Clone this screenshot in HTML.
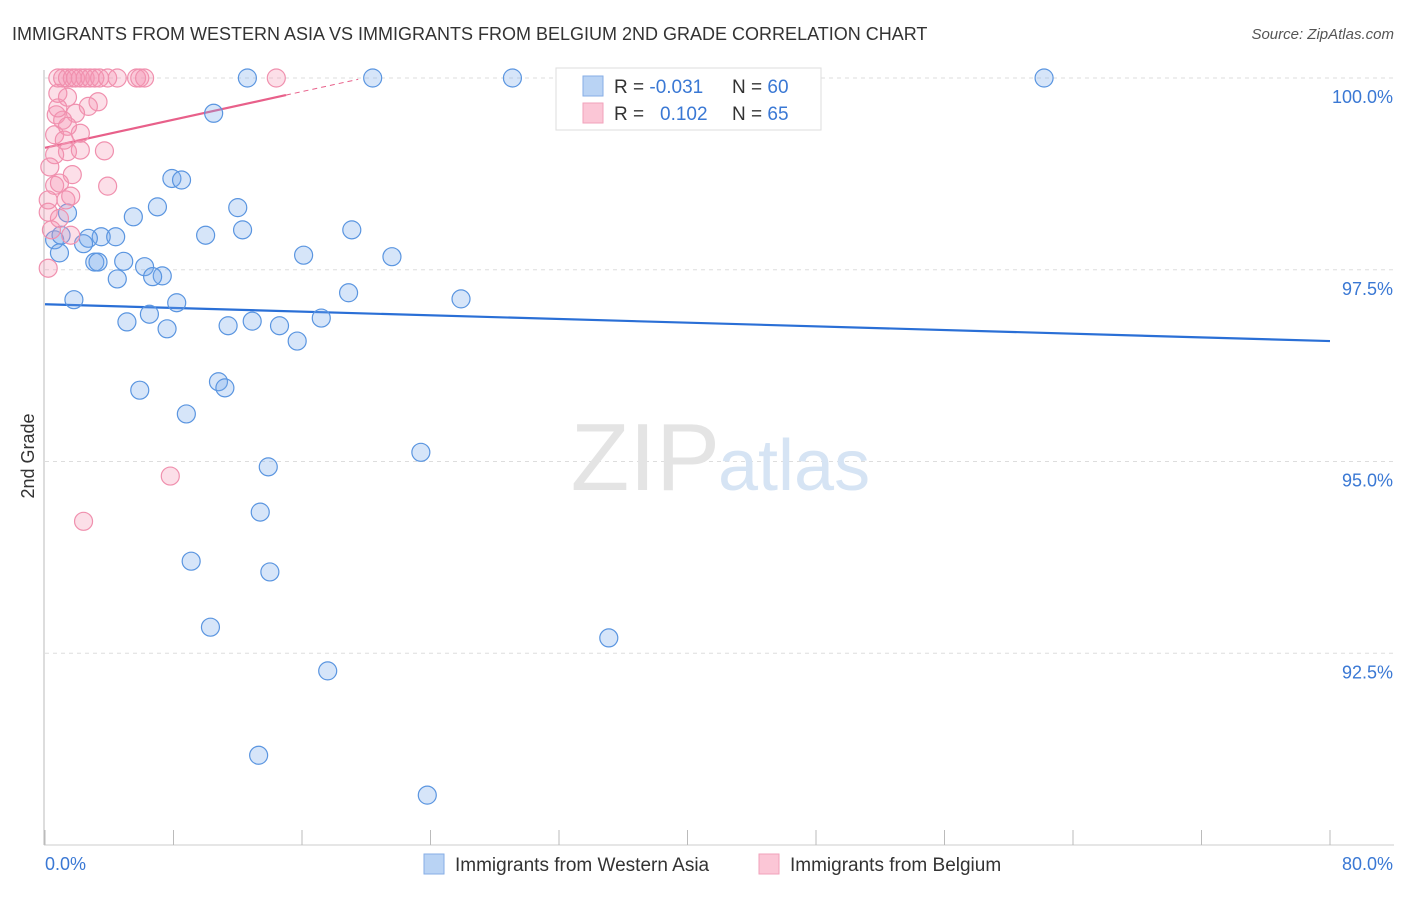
<!DOCTYPE html>
<html><head><meta charset="utf-8"><style>
body{margin:0;background:#fff;font-family:"Liberation Sans",sans-serif}
svg text{font-family:"Liberation Sans",sans-serif}
</style></head><body>
<svg id="chart" width="1406" height="892">
<text x="12" y="40" font-size="18" fill="#333">IMMIGRANTS FROM WESTERN ASIA VS IMMIGRANTS FROM BELGIUM 2ND GRADE CORRELATION CHART</text>
<text x="1394" y="39" font-size="15" fill="#555" text-anchor="end" font-style="italic">Source: ZipAtlas.com</text>
<text x="34" y="456" font-size="18" fill="#333" text-anchor="middle" transform="rotate(-90 34 456)">2nd Grade</text>
<g id="grid"></g>
<text x="720" y="490" font-size="96" fill="#e4e4e4" text-anchor="end" font-family="Liberation Serif">ZIP</text>
<text x="718" y="490" font-size="72" fill="#d6e4f4">atlas</text>
<g id="lines"></g>
<g id="points"></g>
<g>
<rect x="556" y="68" width="265" height="62" fill="#fff" stroke="#ddd"/>
<rect x="583" y="76" width="20" height="20" fill="#b9d3f4" stroke="#86aee6"/>
<rect x="583" y="103" width="20" height="20" fill="#fbc6d6" stroke="#f1a2bb"/>
<text x="614" y="93" font-size="19" fill="#333">R = <tspan fill="#3a78d4">-0.031</tspan></text>
<text x="732" y="93" font-size="19" fill="#333">N = <tspan fill="#3a78d4">60</tspan></text>
<text x="614" y="120" font-size="19" fill="#333">R = <tspan fill="#3a78d4" x="660">0.102</tspan></text>
<text x="732" y="120" font-size="19" fill="#333">N = <tspan fill="#3a78d4">65</tspan></text>
</g>
<g>
<rect x="424" y="854" width="20" height="20" fill="#b9d3f4" stroke="#86aee6"/>
<text x="455" y="871" font-size="19" fill="#333">Immigrants from Western Asia</text>
<rect x="759" y="854" width="20" height="20" fill="#fbc6d6" stroke="#f1a2bb"/>
<text x="790" y="871" font-size="19" fill="#333">Immigrants from Belgium</text>
</g>
</svg>
<script>
const yTicks=[100,97.5,95,92.5];
const yTickLabels=["100.0%","97.5%","95.0%","92.5%"];
const xTickLabels=["0.0%","80.0%"];
const blueX=[12.6,20.4,29.1,62.2,42.3,10.5,7.9,8.5,7.0,12.0,5.5,1.4,10.0,12.3,19.1,3.5,4.4,2.7,0.6,1.0,2.4,16.1,21.6,0.9,3.1,4.9,3.3,6.2,7.3,6.7,4.5,18.9,25.9,1.8,8.2,6.5,5.1,7.6,11.4,12.9,14.6,17.2,15.7,10.8,11.2,5.9,8.8,23.4,13.9,13.4,9.1,14.0,10.3,35.1,17.6,13.3,23.8];
const blueY=[100,100,100,100,100,99.54,98.69,98.67,98.32,98.31,98.19,98.24,97.95,98.02,98.02,97.93,97.93,97.91,97.89,97.95,97.84,97.69,97.67,97.72,97.60,97.61,97.60,97.54,97.42,97.41,97.38,97.20,97.12,97.11,97.07,96.92,96.82,96.73,96.77,96.83,96.77,96.87,96.57,96.04,95.96,95.93,95.62,95.12,94.93,94.34,93.70,93.56,92.84,92.70,92.27,91.17,90.65];
const pinkX=[0.8,1.1,1.4,1.7,1.9,2.2,2.5,2.8,3.1,3.4,3.9,4.5,5.7,5.9,6.2,14.4,0.8,1.4,3.3,2.7,0.7,1.9,1.1,2.2,0.6,1.2,1.4,0.6,2.2,3.7,0.3,1.7,3.9,0.6,0.9,0.2,1.3,1.6,0.2,0.9,0.4,1.6,0.2,7.8,2.4,0.8,1.4];
const pinkY=[100,100,100,100,100,100,100,100,100,100,100,100,100,100,100,100,99.80,99.75,99.69,99.63,99.52,99.54,99.45,99.28,99.26,99.19,99.04,99.00,99.06,99.05,98.84,98.74,98.59,98.60,98.63,98.41,98.41,98.46,98.25,98.17,98.02,97.95,97.52,94.81,94.22,99.61,99.37];
const blueTrend=[97.05,96.57];   // y at x=0 and x=80
const pinkTrend=[99.09,0.0458]; // intercept, slope
const X=v=>45+v/80*1285;
const Y=v=>78+(100-v)/10*767;
const NS="http://www.w3.org/2000/svg";
function mk(tag,attrs,parent){const e=document.createElementNS(NS,tag);for(const k in attrs)e.setAttribute(k,attrs[k]);parent.appendChild(e);return e;}
const grid=document.getElementById('grid');
yTicks.forEach((t,i)=>{
 const l=mk('line',{x1:45,x2:1394,y1:Y(t),y2:Y(t),stroke:'#ddd','stroke-dasharray':'4,4'},grid);
 
 
 const tx=mk('text',{x:1393,y:Y(t)+25,'font-size':18,fill:'#3a78d4','text-anchor':'end'},grid);
 tx.textContent=yTickLabels[i];
 
 
});
const ax=mk('line',{x1:44,x2:44,y1:70,y2:845,stroke:'#bbb'},grid);


const bx=mk('line',{x1:44,x2:1394,y1:845,y2:845,stroke:'#ccc'},grid);


for(let v=0;v<=80;v+=8){
 const t=mk('line',{x1:X(v),x2:X(v),y1:830,y2:845,stroke:'#bbb'},grid);
 
 
}
[[0,'start'],[80,'end']].forEach((p,i)=>{
 const tx=mk('text',{x:i?1393:45,y:870,'font-size':18,fill:'#3a78d4','text-anchor':p[1]},grid);
 tx.textContent=xTickLabels[i];
 
 
});
const pts=document.getElementById('points');
blueX.forEach((x,i)=>{
 const c=mk('circle',{cx:X(x),cy:Y(blueY[i]),r:9,fill:'rgba(120,170,235,0.3)',stroke:'#5a95e0','stroke-width':1.2},pts);
 
 
});
pinkX.forEach((x,i)=>{
 const c=mk('circle',{cx:X(x),cy:Y(pinkY[i]),r:9,fill:'rgba(245,150,180,0.3)',stroke:'#f090ae','stroke-width':1.2},pts);
 
 
});
const lines=document.getElementById('lines');
const bl=mk('line',{x1:X(0),y1:Y(blueTrend[0]),x2:X(80),y2:Y(blueTrend[1]),stroke:'#2a6fd6','stroke-width':2.2},lines);


const pl=mk('line',{x1:X(0),y1:Y(pinkTrend[0]),x2:X(15),y2:Y(pinkTrend[0]+15*pinkTrend[1]),stroke:'#e8608a','stroke-width':2.2},lines);


const pd=mk('line',{x1:X(15),y1:Y(pinkTrend[0]+15*pinkTrend[1]),x2:X(19.5),y2:Y(pinkTrend[0]+19.5*pinkTrend[1]),stroke:'#e8608a','stroke-width':1,'stroke-dasharray':'5,4'},lines);


</script>
</body></html>
